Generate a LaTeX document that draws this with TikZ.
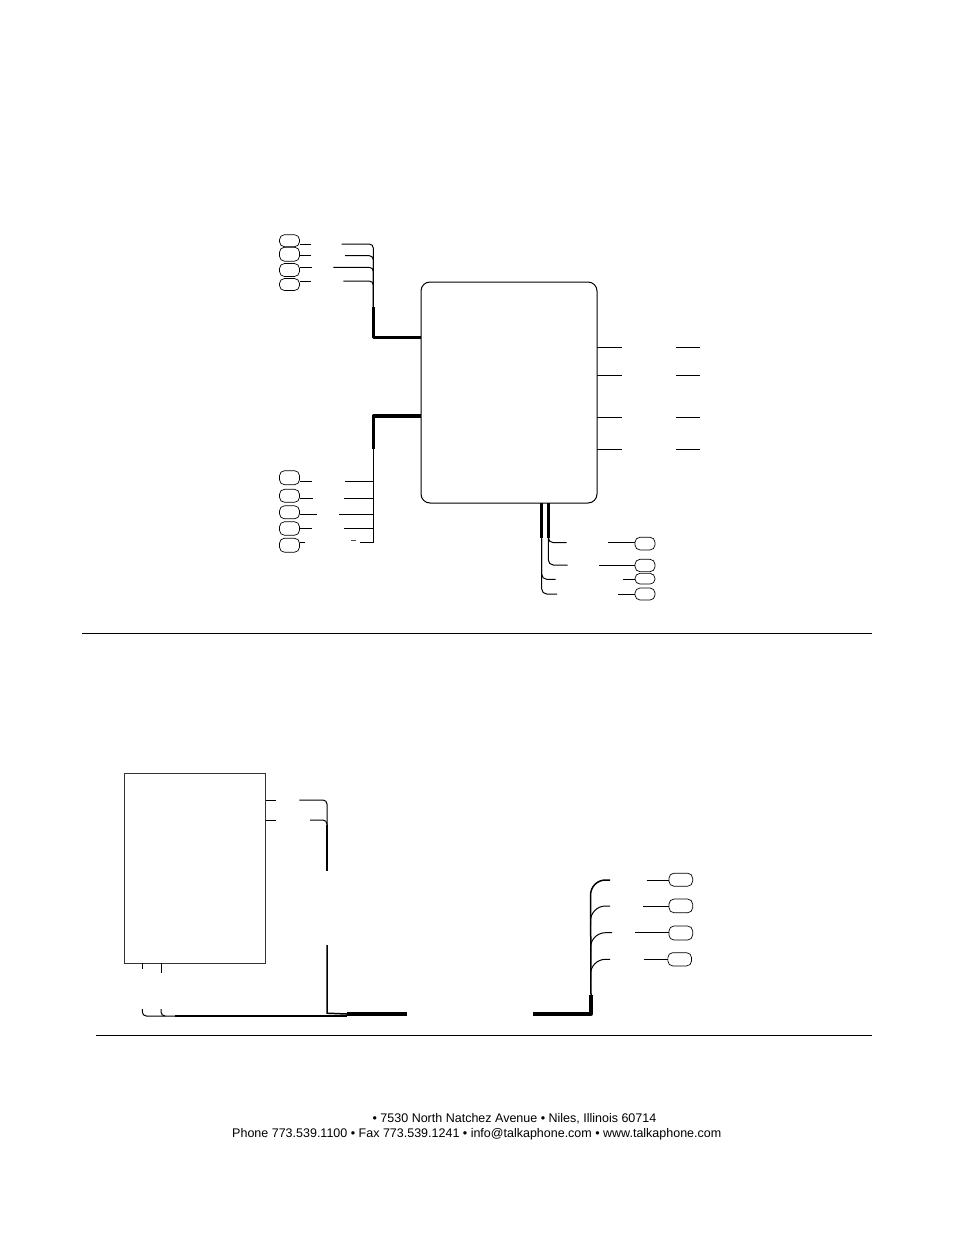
\documentclass[tikz,border=0pt]{standalone}
\usepackage{fontspec}
\setmainfont{Liberation Sans}
\tikzset{
  oval/.style={draw=black,line width=0.7pt,rounded corners=5pt,inner sep=0pt,outer sep=0pt},
  wire/.style={draw=black,line width=1pt},
  trunk/.style={draw=black,line width=1.5pt},
  bus/.style={draw=black,line width=3.3pt,line join=round},
  rule/.style={draw=black,line width=0.9pt},
  pagetext/.style={font=\fontsize{12.5pt}{14pt}\selectfont,inner sep=0pt,anchor=center,text=black}
}
\begin{document}
\begin{tikzpicture}[x=1pt,y=-1pt]
\useasboundingbox (0,0) rectangle (954,1235);
% main enclosure
\node[draw=black,line width=1pt,rounded corners=9pt,minimum width=176pt,minimum height=221pt,inner sep=0pt,outer sep=0pt] (main) at (509,392.5) {};
% top-left group
\node[oval,minimum width=20pt,minimum height=12pt] (a1) at (289.5,240.7) {};
\node[oval,minimum width=20pt,minimum height=14pt] (a2) at (289.5,254.2) {};
\node[oval,minimum width=20pt,minimum height=13pt] (a3) at (289.5,270) {};
\node[oval,minimum width=20pt,minimum height=12pt] (a4) at (289.5,284.5) {};
\draw[wire] (a1.east |- 0,244) -- (311,244);
\draw[wire] (a2.east |- 0,255.7) -- (311,255.7);
\draw[wire] (a3.east |- 0,267.3) -- (311.5,267.3);
\draw[wire] (a4.east |- 0,281) -- (311,281);
\coordinate (j1) at (373.3,307);
\draw[wire,rounded corners=4pt] (341.7,244) -| (j1);
\draw[wire,rounded corners=4pt] (345,255.7) -| (j1);
\draw[wire,rounded corners=4pt] (333.3,267.3) -| (j1);
\draw[wire,rounded corners=4pt] (343.3,281) -| (j1);
\draw[trunk] (373.3,282) -- (j1);
\draw[bus] (j1) |- (main.west |- 0,337.3);
% lower-left group
\node[oval,minimum width=20pt,minimum height=14pt] (b1) at (289.5,477.7) {};
\node[oval,minimum width=20pt,minimum height=13pt] (b2) at (289.5,495.8) {};
\node[oval,minimum width=20pt,minimum height=13pt] (b3) at (289.5,512.3) {};
\node[oval,minimum width=20pt,minimum height=13.5pt] (b4) at (289.5,528.5) {};
\node[oval,minimum width=20pt,minimum height=14pt] (b5) at (289.5,545.2) {};
\draw[wire] (b1.east |- 0,481.7) -- (311.7,481.7);
\draw[wire] (b2.east |- 0,498.3) -- (313,498.3);
\draw[wire] (b3.east |- 0,514.7) -- (317,514.7);
\draw[wire] (b4.east |- 0,528.3) -- (312,528.3);
\draw[wire] (b5.east |- 0,542.7) -- (304.7,542.7);
\coordinate (j2) at (373.5,449);
\draw[bus] (main.west |- 0,416) -| (j2);
\draw[wire] (360,542.7) -- (373.5,542.7);
\draw[trunk] (j2) -- (373.5,543.2);
\draw[wire] (345.3,481.7) -- (373.5,481.7);
\draw[wire] (344,498.3) -- (373.5,498.3);
\draw[wire] (339.3,514.7) -- (373.5,514.7);
\draw[wire] (344,528.3) -- (373.5,528.3);
\draw[line width=0.5pt,draw=black!70] (351,540) -- (356,540);
% right side stubs
\draw[wire] (main.east |- 0,347.3) -- (622.3,347.3);
\draw[wire] (main.east |- 0,375) -- (622.3,375);
\draw[wire] (main.east |- 0,417) -- (622.3,417);
\draw[wire] (main.east |- 0,449.3) -- (622.3,449.3);
\draw[wire] (676,347.3) -- (700,347.3);
\draw[wire] (676,375) -- (700,375);
\draw[wire] (676,417) -- (700,417);
\draw[wire] (676,449.3) -- (700,449.3);
% bottom group
\node[oval,minimum width=20pt,minimum height=12.7pt] (c1) at (645,543.6) {};
\node[oval,minimum width=20pt,minimum height=12.4pt] (c2) at (645,565.5) {};
\node[oval,minimum width=20pt,minimum height=10.7pt] (c3) at (645,578.7) {};
\node[oval,minimum width=20pt,minimum height=12pt] (c4) at (645,594) {};
\coordinate (j3) at (541.7,538.3);
\coordinate (j4) at (548.3,538.3);
\draw[bus,line width=3pt] (main.south -| j3) -- (j3);
\draw[bus,line width=3pt] (main.south -| j4) -- (j4);
\draw[wire,rounded corners=5pt] (j4) |- (566.7,542.7);
\draw[wire,rounded corners=5pt] (j4) |- (567.7,565);
\draw[wire,rounded corners=5pt] (j3) |- (555.7,579.3);
\draw[wire,rounded corners=5pt] (j3) |- (557,594);
\draw[wire] (608.3,542.7) -- (c1.west |- 0,542.7);
\draw[wire] (599,565) -- (c2.west |- 0,565);
\draw[wire] (623,579.3) -- (c3.west |- 0,579.3);
\draw[wire] (618,594) -- (c4.west |- 0,594);
% separators
\coordinate (r1a) at (82,633.5);
\coordinate (r1b) at (872,633.5);
\coordinate (r2a) at (96,1035.5);
\coordinate (r2b) at (872,1035.5);
\draw[rule] (r1a) -- (r1b);
\draw[rule] (r2a) -- (r2b);
% lower enclosure
\node[draw=black!80,line width=1pt,minimum width=141.5pt,minimum height=189.5pt,inner sep=0pt,outer sep=0pt] (ctl) at (194.75,868.25) {};
\draw[wire] (ctl.east |- 0,800) -- (276,800);
\draw[wire] (ctl.east |- 0,820) -- (276,820);
\draw[wire,rounded corners=4pt] (299.3,800) -| (327,870.7);
\draw[wire,rounded corners=4pt] (310,820) -| (327,870.7);
\draw[trunk] (327,825) -- (327,870.7);
\draw[wire] (ctl.south -| 142.3,0) -- (142.3,969);
\draw[wire] (ctl.south -| 161,0) -- (161,972.7);
\coordinate (j5) at (347,1014);
\draw[trunk] (327,945) -- (327,1013.2) -- (j5);
\draw[bus] (j5) -- (406.5,1014);
\draw[wire,rounded corners=4pt] (142.3,1009) |- (165,1016);
\draw[wire,rounded corners=4pt] (161,1009) |- (180,1016);
\draw[trunk] (175,1016) -- (347,1016);
% lower right group
\coordinate (j6) at (591,995);
\draw[bus] (533,1014) -| (j6);
\draw[trunk,rounded corners=15pt] (j6) -- (590.5,880) -- (610,880);
\draw[wire,rounded corners=15pt] (590.5,925) -- (590.5,906) -- (610,906);
\draw[wire,rounded corners=15pt] (590.5,952) -- (590.5,932.7) -- (612,932.7);
\draw[wire,rounded corners=15pt] (590.5,979) -- (590.5,959.3) -- (610,959.3);
\node[oval,minimum width=23.7pt,minimum height=13pt] (d1) at (680.8,879.7) {};
\node[oval,minimum width=23.7pt,minimum height=13.7pt] (d2) at (680.8,905.9) {};
\node[oval,minimum width=23.7pt,minimum height=14pt] (d3) at (680.8,933) {};
\node[oval,minimum width=23.7pt,minimum height=13.3pt] (d4) at (679.7,959.3) {};
\draw[wire] (646.7,880) -- (d1.west |- 0,880);
\draw[wire] (643,906) -- (d2.west |- 0,906);
\draw[wire] (635,932.7) -- (d3.west |- 0,932.7);
\draw[wire] (643.5,959.3) -- (d4.west |- 0,959.3);
% footer
\node[pagetext] (f1) at (514.5,1119.2) {• 7530 North Natchez Avenue • Niles, Illinois 60714};
\node[pagetext] (f2) at (476.8,1134.2) {Phone 773.539.1100 • Fax 773.539.1241 • info@talkaphone.com • www.talkaphone.com};
\end{tikzpicture}
\end{document}
